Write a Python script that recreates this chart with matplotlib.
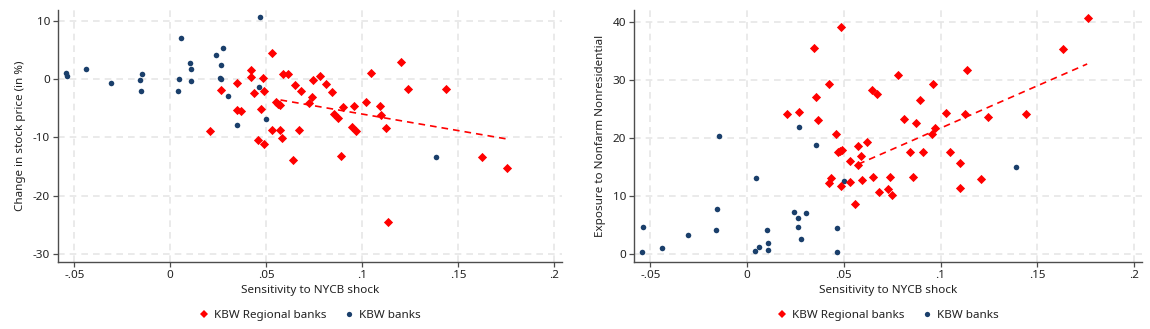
import matplotlib
matplotlib.use("Agg")
import matplotlib.pyplot as plt
from matplotlib.lines import Line2D

plt.rcParams["font.family"] = ["Noto Sans", "DejaVu Sans"]

# ---- Panel 1: change in stock price ----
reg_x_price = [0.0263, 0.0205, 0.0530, 0.0419, 0.0419, 0.0346, 0.0483, 0.0436, 0.0487,
               0.0350, 0.0367, 0.0471, 0.0459, 0.0487, 0.0533, 0.0573, 0.0585, 0.0642,
               0.0670, 0.0554, 0.0563, 0.0571, 0.0590, 0.0615, 0.0649, 0.0682, 0.0743,
               0.0781, 0.0812, 0.0737, 0.0841, 0.0725, 0.0855, 0.0874, 0.0903, 0.0957,
               0.0890, 0.0950, 0.0968, 0.1023, 0.1046, 0.1094, 0.1096, 0.1125, 0.1205,
               0.1238, 0.1438, 0.1627, 0.1757, 0.1134]
reg_y_price = [-1.95, -8.92, 4.46, 1.54, 0.40, -0.69, 0.17, -2.40, -2.00,
               -5.26, -5.43, -5.09, -10.52, -11.09, -8.75, -8.69, -10.06, -13.89,
               -8.75, -3.95, -4.23, -4.52, 0.80, 0.80, -1.03, -2.00, -0.11,
               0.51, -0.92, -3.03, -2.29, -4.18, -5.94, -6.75, -4.80, -4.57,
               -13.15, -8.23, -8.92, -3.89, 0.97, -4.57, -6.17, -8.46, 2.92,
               -1.77, -1.77, -13.32, -15.21, -24.53]
kbw_x_price = [-0.0541, -0.0536, -0.0441, -0.0306, -0.0159, -0.0147, -0.0154, 0.0057,
               0.0044, 0.0040, 0.0102, 0.0109, 0.0109, 0.0239, 0.0275, 0.0263, 0.0258,
               0.0263, 0.0300, 0.0466, 0.0350, 0.0461, 0.0499, 0.1383]
kbw_y_price = [1.08, 0.57, 1.72, -0.74, -0.23, 0.91, -2.06, 6.98,
               0.05, -2.06, 2.80, 1.72, -0.29, 4.12, 5.32, 2.46, 0.11,
               0.05, -2.92, 10.58, -7.89, -1.43, -6.92, -13.32]
fit_x_price = [0.0575, 0.1757]
fit_y_price = [-3.6, -10.3]

# ---- Panel 2: exposure to nonfarm nonresidential ----
reg_x_expo = [0.0347, 0.0421, 0.0206, 0.0266, 0.0354, 0.0369, 0.0421,
              0.0486, 0.0462, 0.0469, 0.0481, 0.0490, 0.0436, 0.0486, 0.0534, 0.0533,
              0.0559, 0.0572, 0.0574, 0.0588, 0.0595, 0.0620, 0.0645, 0.0672, 0.0653,
              0.0684, 0.0729, 0.0741, 0.0748, 0.0782, 0.0813, 0.0844, 0.0858, 0.0875,
              0.0896, 0.0910, 0.0958, 0.0960, 0.0972, 0.1029, 0.1049, 0.1099, 0.1099,
              0.1128, 0.1139, 0.1207, 0.1243, 0.1443, 0.1634, 0.1762]
reg_y_expo = [35.53, 29.29, 24.13, 24.42, 27.00, 23.15, 12.26,
              39.09, 20.74, 17.59, 17.82, 17.99, 13.12, 11.80, 16.10, 12.38,
              8.70, 18.57, 15.41, 16.90, 12.78, 19.31, 28.31, 27.57, 13.29,
              10.71, 11.18, 13.24, 10.15, 30.78, 23.22, 17.59, 13.24, 22.53,
              26.53, 17.54, 20.69, 29.23, 21.67, 24.35, 17.64, 15.65, 11.40,
              24.08, 31.69, 12.90, 23.61, 24.08, 35.31, 40.69]
kbw_x_expo = [-0.0541, -0.0538, -0.0442, -0.0306, -0.0159, -0.0154, -0.0147, 0.0039,
              0.0044, 0.0059, 0.0102, 0.0109, 0.0109, 0.0240, 0.0261, 0.0261, 0.0266,
              0.0278, 0.0302, 0.0354, 0.0502, 0.0467, 0.0464, 0.1388]
kbw_y_expo = [0.40, 4.75, 1.08, 3.38, 4.13, 7.79, 20.29, 0.62,
              13.17, 1.31, 4.18, 1.89, 0.69, 7.27, 6.24, 4.69, 21.84,
              2.68, 7.05, 18.74, 12.55, 4.47, 0.45, 14.96]
fit_x_expo = [0.0575, 0.1758]
fit_y_expo = [15.5, 32.72]

x_ticks = [-0.05, 0, 0.05, 0.1, 0.15, 0.2]
x_tick_labels = ["-.05", "0", ".05", ".1", ".15", ".2"]
price_ticks = [10, 0, -10, -20, -30]
expo_ticks = [0, 10, 20, 30, 40]

RED = "#ff0000"
NAVY = "#1a3f6b"
GRID = "#e6e6e6"
AXIS = "#4d4d4d"
FS = 8.4

fig = plt.figure(figsize=(11.5, 3.29), dpi=100)
ax1 = fig.add_axes([0.0507, 0.2046, 0.4377, 0.765])
ax2 = fig.add_axes([0.5516, 0.2046, 0.4412, 0.765])


def style(ax, yticks, ylim, ylabel):
    ax.set_xlim(-0.0583, 0.204)
    ax.set_ylim(*ylim)
    ax.set_xticks(x_ticks)
    ax.set_xticklabels(x_tick_labels)
    ax.set_yticks(yticks)
    ax.set_yticklabels([str(t) for t in yticks])
    ax.grid(True, color=GRID, linestyle=(0, (4, 3)), linewidth=1.2)
    ax.set_axisbelow(True)
    for s in ("top", "right"):
        ax.spines[s].set_visible(False)
    for s in ("left", "bottom"):
        ax.spines[s].set_color(AXIS)
        ax.spines[s].set_linewidth(1.0)
    ax.tick_params(direction="out", length=3.5, width=0.9, color=AXIS,
                   labelsize=FS, labelcolor="#222222", pad=2.5)
    ax.set_xlabel("Sensitivity to NYCB shock", fontsize=FS, color="#222222", labelpad=3)
    ax.set_ylabel(ylabel, fontsize=FS, color="#222222", labelpad=5)


ax1.scatter(kbw_x_price, kbw_y_price, s=16, marker="o", color=NAVY, linewidths=0, zorder=3)
ax1.scatter(reg_x_price, reg_y_price, s=22, marker="D", color=RED, linewidths=0, zorder=3)
ax1.plot(fit_x_price, fit_y_price, color=RED, linestyle=(0, (4, 3)), linewidth=1.2, zorder=4)
style(ax1, price_ticks, (-31.34, 11.84), "Change in stock price (in %)")

ax2.scatter(kbw_x_expo, kbw_y_expo, s=16, marker="o", color=NAVY, linewidths=0, zorder=3)
ax2.scatter(reg_x_expo, reg_y_expo, s=22, marker="D", color=RED, linewidths=0, zorder=3)
ax2.plot(fit_x_expo, fit_y_expo, color=RED, linestyle=(0, (4, 3)), linewidth=1.2, zorder=4)
style(ax2, expo_ticks, (-1.27, 42.0), "Exposure to Nonfarm Nonresidential")

handles = [
    Line2D([], [], marker="D", color=RED, linestyle="none", markersize=4.5, markeredgewidth=0),
    Line2D([], [], marker="o", color=NAVY, linestyle="none", markersize=3.8, markeredgewidth=0),
]
labels = ["KBW Regional banks", "KBW banks"]
for ax in (ax1, ax2):
    ax.legend(handles, labels, loc="center", bbox_to_anchor=(0.5, -0.212),
              ncol=2, frameon=False, fontsize=FS, handlelength=0.8,
              handletextpad=0.5, columnspacing=1.5, labelcolor="#222222",
              borderpad=0)

fig.savefig("out.png", dpi=100, facecolor="white")
